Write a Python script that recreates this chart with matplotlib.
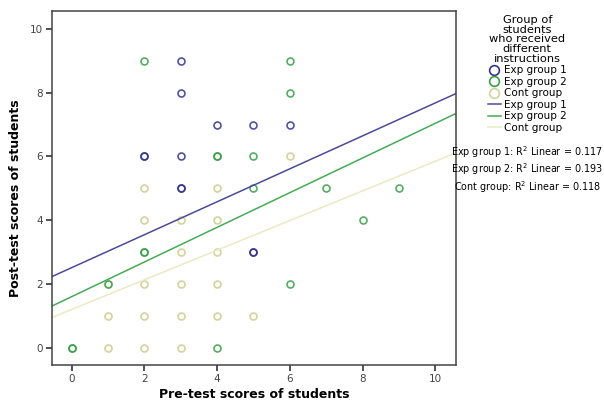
import matplotlib.pyplot as plt
from matplotlib.lines import Line2D

# group scatter data (pre-test, post-test); repeated points show overlap
exp1_x = [2, 2, 3, 3, 3, 3, 3, 4, 5, 5, 5, 6]
exp1_y = [6, 6, 9, 8, 6, 5, 5, 7, 7, 3, 3, 7]
exp2_x = [0, 0, 1, 2, 2, 2, 4, 4, 4, 5, 5, 6, 6, 6, 7, 8, 9]
exp2_y = [0, 0, 2, 9, 3, 3, 6, 6, 0, 6, 5, 9, 8, 2, 5, 4, 5]
cont_x = [1, 1, 1, 2, 2, 2, 2, 2, 3, 3, 3, 3, 3, 4, 4, 4, 4, 4, 5, 6]
cont_y = [2, 1, 0, 5, 4, 2, 1, 0, 4, 3, 2, 1, 0, 5, 4, 3, 2, 1, 1, 6]

# linear fit lines: intercept, slope
fit_b = [2.51, 1.60, 1.20]
fit_m = [0.517, 0.544, 0.465]
r2 = ['0.117', '0.193', '0.118']
names = ['Exp group 1', 'Exp group 2', 'Cont group']

pt_col = ['#34348a', '#3a9e48', '#d3d39c']
ln_col = ['#4a4a98', '#45ab55', '#eaeac4']

fig = plt.figure(figsize=(6.04, 4.01), dpi=100)
ax = fig.add_axes([0.086, 0.09, 0.669, 0.883])

ax.plot(cont_x, cont_y, 'o', mfc='none', mec=pt_col[2], ms=5, mew=1.2)
ax.plot(exp1_x, exp1_y, 'o', mfc='none', mec=pt_col[0], ms=5, mew=1.2, alpha=0.85)
ax.plot(exp2_x, exp2_y, 'o', mfc='none', mec=pt_col[1], ms=5, mew=1.2, alpha=0.85)

for b, m, c in zip(fit_b, fit_m, ln_col):
    ax.axline((0, b), slope=m, color=c, lw=1.1)

ax.set_xlim(-0.54, 10.57)
ax.set_ylim(-0.54, 10.57)
ax.set_xticks([0, 2, 4, 6, 8, 10])
ax.set_yticks([0, 2, 4, 6, 8, 10])
ax.tick_params(direction='out', length=4, width=1.2, labelsize=7.5,
               labelcolor='#444444', color='#333333', pad=2.5)
for s in ax.spines.values():
    s.set_color('#444444')
    s.set_linewidth(1.1)

ax.set_xlabel('Pre-test scores of students', fontsize=9, fontweight='bold', labelpad=3)
ax.set_ylabel('Post-test scores of students', fontsize=9, fontweight='bold')
ax.yaxis.set_label_coords(-0.074, 0.47)

# legend: markers then fit lines
handles = [Line2D([], [], marker='o', ls='none', mfc='none', mec=c, ms=7, mew=1.2)
           for c in pt_col]
handles += [Line2D([], [], color=c, lw=1.1) for c in ln_col]
labels = names + names
leg = fig.legend(handles, labels, loc='upper center', bbox_to_anchor=(0.873, 0.975),
                 frameon=False, fontsize=7.5, handlelength=1.2, handletextpad=0.3,
                 labelspacing=0.15, borderpad=0,
                 title='Group of\nstudents\nwho received\ndifferent\ninstructions',
                 title_fontsize=8.2)
leg.get_title().set_multialignment('center')
leg.get_title().set_linespacing(0.95)

txt = '\n'.join(f'{n}: R$^2$ Linear = {v}' for n, v in zip(names, r2))
fig.text(0.873, 0.578, txt, ha='center', va='center', fontsize=6.9,
         multialignment='center', linespacing=1.15)

fig.savefig('out.png')
